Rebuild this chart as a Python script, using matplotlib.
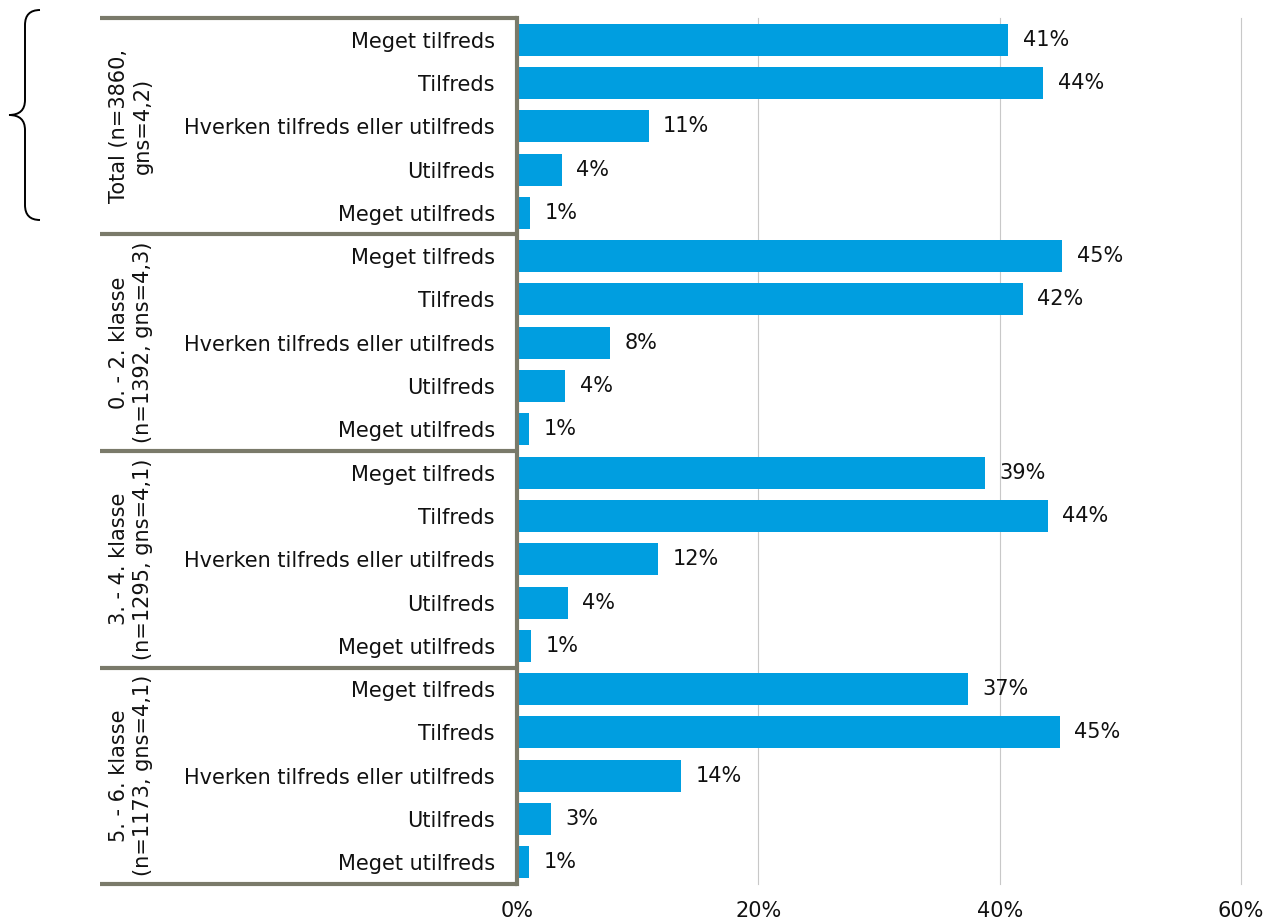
import numpy as np
import matplotlib.pyplot as plt
from matplotlib.path import Path
from matplotlib.patches import PathPatch
import matplotlib.transforms as mtransforms

plt.rcParams['font.family'] = ['DejaVu Sans']

categories = ['Meget tilfreds', 'Tilfreds', 'Hverken tilfreds eller utilfreds',
              'Utilfreds', 'Meget utilfreds']
groups = ['Total (n=3860,\ngns=4,2)',
          '0. - 2. klasse\n(n=1392, gns=4,3)',
          '3. - 4. klasse\n(n=1295, gns=4,1)',
          '5. - 6. klasse\n(n=1173, gns=4,1)']
values_total = [40.7, 43.6, 10.9, 3.7, 1.1]
values_02 = [45.2, 41.9, 7.7, 4.0, 1.0]
values_34 = [38.8, 44.0, 11.7, 4.2, 1.2]
values_56 = [37.4, 45.0, 13.6, 2.8, 1.0]
labels_total = ['41%', '44%', '11%', '4%', '1%']
labels_02 = ['45%', '42%', '8%', '4%', '1%']
labels_34 = ['39%', '44%', '12%', '4%', '1%']
labels_56 = ['37%', '45%', '14%', '3%', '1%']
xticks = [0, 20, 40, 60]

all_values = [values_total, values_02, values_34, values_56]
all_labels = [labels_total, labels_02, labels_34, labels_56]

bar_color = '#009EE0'
frame_color = '#7a7a6a'
text_color = '#111111'
fs = 15

fig = plt.figure(figsize=(12.7, 9.23), dpi=100)
ax = fig.add_axes([517 / 1270, 1 - 884 / 923, 724 / 1270, 866 / 923])

n_cat = len(categories)
n_rows = n_cat * len(groups)
ypos, vals, labs, ylabels = [], [], [], []
for g, (v, l) in enumerate(zip(all_values, all_labels)):
    for i in range(n_cat):
        ypos.append(g * n_cat + i)
        vals.append(v[i])
        labs.append(l[i])
        ylabels.append(categories[i])

# vertical gridlines (not clipped, so the 60% line at the edge shows fully)
for t in xticks[1:]:
    ax.axvline(t, color='#c8c8c8', linewidth=0.8, zorder=0, clip_on=False)

ax.barh(ypos, vals, height=0.74, color=bar_color, zorder=2)
for y, v, l in zip(ypos, vals, labs):
    ax.text(v + 1.2, y, l, va='center', ha='left', fontsize=fs, color=text_color)

ax.set_ylim(n_rows - 0.5, -0.5)
ax.set_xlim(0, 60)
ax.set_xticks(xticks)
ax.set_xticklabels([f'{t}%' for t in xticks], fontsize=fs, color=text_color)
ax.set_yticks(ypos)
ax.set_yticklabels(ylabels, fontsize=fs, color=text_color)
ax.tick_params(axis='y', length=0, pad=16)
ax.tick_params(axis='x', length=0, pad=12)
for s in ['top', 'right', 'bottom']:
    ax.spines[s].set_visible(False)
ax.spines['left'].set_color(frame_color)
ax.spines['left'].set_linewidth(3)

# group separators and group labels
trans = mtransforms.blended_transform_factory(ax.transAxes, ax.transData)
x_left = (100 - 517) / 724
for g in range(len(groups) + 1):
    y = g * n_cat - 0.5
    ax.plot([x_left, 0], [y, y], color=frame_color, linewidth=3,
            transform=trans, clip_on=False, solid_capstyle='butt')
for g, name in enumerate(groups):
    yc = g * n_cat + (n_cat - 1) / 2
    ax.text((131 - 517) / 724, yc, name, rotation=90, ha='center', va='center',
            fontsize=fs, transform=trans, multialignment='center',
            linespacing=1.2, color=text_color)

# curly brace next to the Total group
x0, x1, xm = 40, 25, 9
yt, yb = 923 - 10, 923 - 220
ym = (yt + yb) / 2
r = 15
verts = [(x0, yt), (x1, yt), (x1, yt - r),
         (x1, ym + r), (x1, ym), (xm, ym),
         (x1, ym), (x1, ym - r),
         (x1, yb + r), (x1, yb), (x0, yb)]
verts = [(x / 1270, y / 923) for x, y in verts]
codes = [Path.MOVETO, Path.CURVE3, Path.CURVE3,
         Path.LINETO, Path.CURVE3, Path.CURVE3,
         Path.CURVE3, Path.CURVE3,
         Path.LINETO, Path.CURVE3, Path.CURVE3]
fig.patches.append(PathPatch(Path(verts, codes), transform=fig.transFigure,
                             fill=False, edgecolor='black', linewidth=1.4))

fig.savefig('out.png', dpi=100)
